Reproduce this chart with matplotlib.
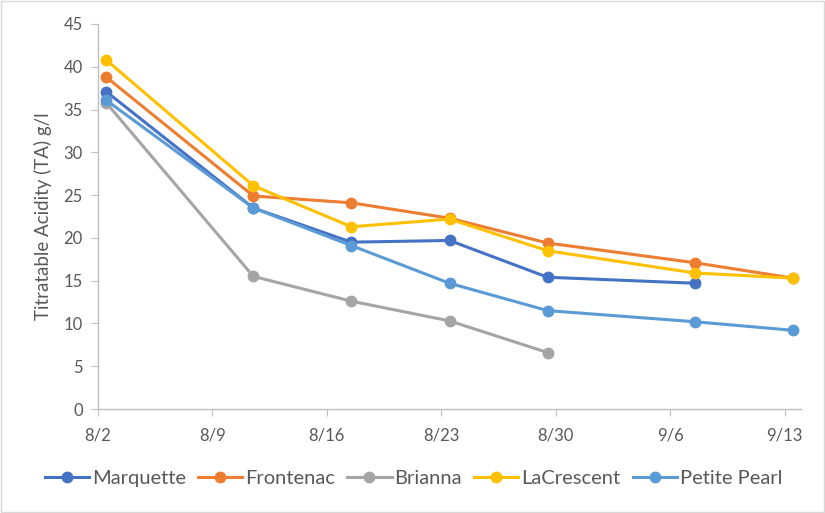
import matplotlib.pyplot as plt
import matplotlib.dates as mdates
from datetime import datetime, timedelta

plt.rcParams['font.family'] = ['Lato', 'DejaVu Sans']

# dates of sampling (Excel date axis puts points mid-day)
dates = ['2023-08-02', '2023-08-11', '2023-08-17', '2023-08-23', '2023-08-29', '2023-09-07', '2023-09-13']

marquette = [37.1, 23.5, 19.5, 19.7, 15.4, 14.7]
frontenac = [38.8, 24.9, 24.1, 22.3, 19.4, 17.1, 15.3]
brianna = [35.8, 15.5, 12.6, 10.3, 6.6]
lacrescent = [40.8, 26.1, 21.3, 22.2, 18.5, 15.9, 15.3]
petite_pearl = [36.1, 23.5, 19.1, 14.7, 11.5, 10.2, 9.2]

names = ['Marquette', 'Frontenac', 'Brianna', 'LaCrescent', 'Petite Pearl']
colors = ['#4472C4', '#ED7D31', '#A5A5A5', '#FFC000', '#5B9BD5']
series = [marquette, frontenac, brianna, lacrescent, petite_pearl]

x = [datetime.strptime(d, '%Y-%m-%d') + timedelta(hours=12) for d in dates]

fig = plt.figure(figsize=(8.25, 5.13), dpi=100)
ax = fig.add_axes([98/825, 1-409/513, (801-98)/825, (409-24)/513])

for name, c, vals in zip(names, colors, series):
    ax.plot(x[:len(vals)], vals, color=c, lw=2.2, marker='o', ms=7.5, label=name)

ax.set_ylim(0, 45)
ax.set_yticks(range(0, 46, 5))
ax.set_xlim(datetime(2023, 8, 2), datetime(2023, 9, 14))
ax.set_xticks([datetime(2023, 8, 2) + timedelta(days=7*i) for i in range(7)])
ax.xaxis.set_major_formatter(mdates.DateFormatter('%-m/%-d'))

for s in ['top', 'right']:
    ax.spines[s].set_visible(False)
for s in ['left', 'bottom']:
    ax.spines[s].set_color('#BFBFBF')
    ax.spines[s].set_linewidth(1)
ax.tick_params(colors='#BFBFBF', labelcolor='#595959', labelsize=12, length=5)
ax.tick_params(axis='y', pad=6)
ax.tick_params(axis='x', pad=8)

ax.set_ylabel('Titratable Acidity (TA) g/l', fontsize=13.5, color='#595959', labelpad=8)

ax.legend(loc='center', bbox_to_anchor=(0.5 - 36/703, -0.18), ncol=5, frameon=False,
          fontsize=14.5, labelcolor='#595959', handlelength=2.2, columnspacing=0.6,
          handletextpad=0.15)

fig.patches.append(plt.Rectangle((0.001, 0.001), 0.998, 0.998, transform=fig.transFigure,
                                 fill=False, edgecolor='#D9D9D9', lw=1))

fig.savefig('out.png', dpi=100)
